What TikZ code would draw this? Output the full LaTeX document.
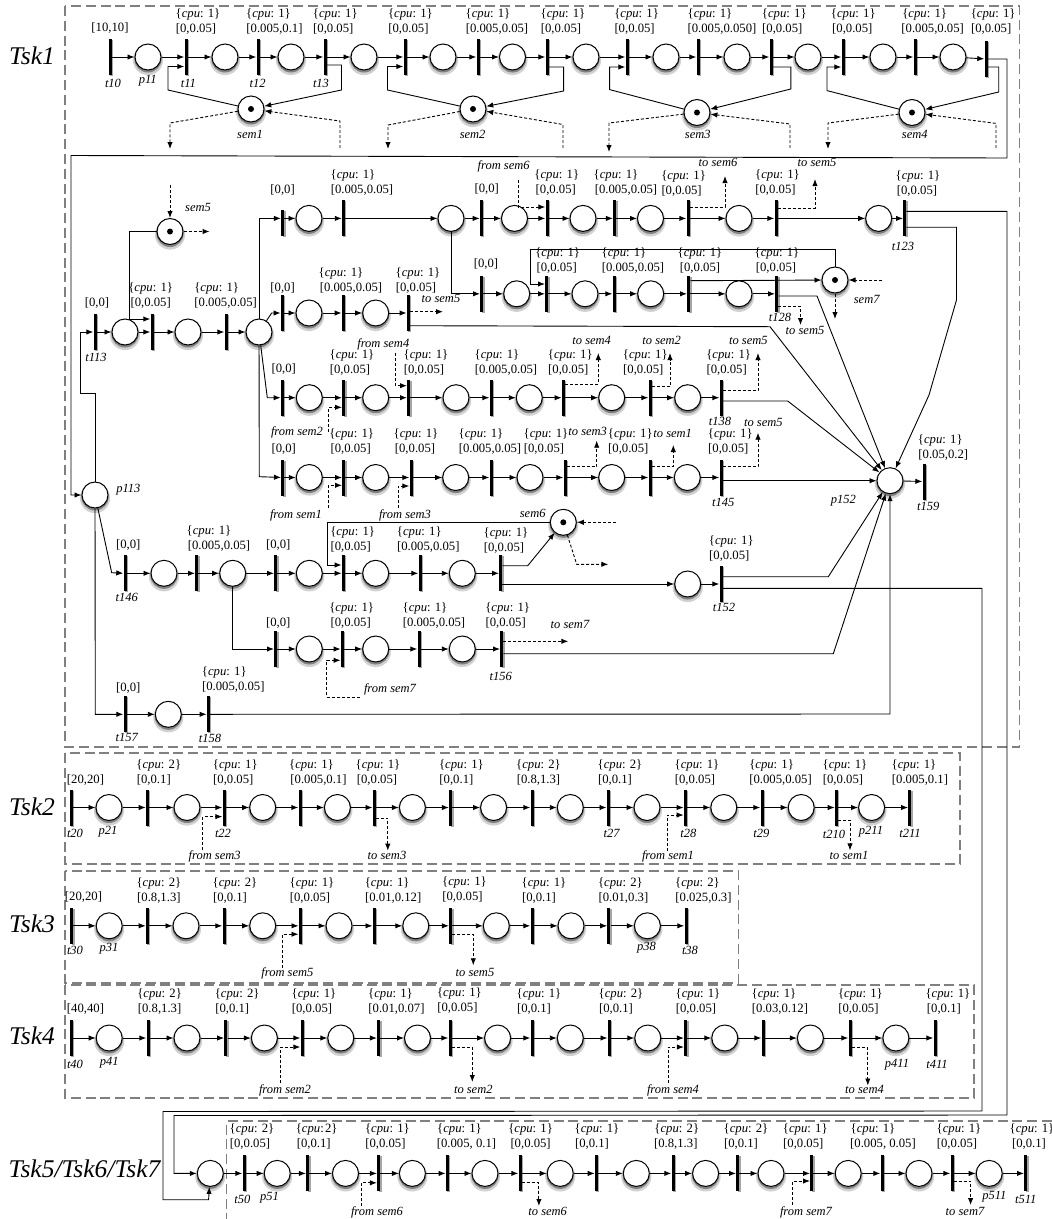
\documentclass[tikz,border=0pt]{standalone}
\usepackage{fontspec}
\setmainfont{Liberation Serif}
\usetikzlibrary{arrows.meta,shadows}
\newcounter{labc}
\tikzset{
  plc/.style={circle,draw=black,line width=1pt,fill=white,minimum size=26pt,inner sep=0pt,
    general shadow={fill=black,opacity=.18,shadow yshift=-2.6pt,shadow scale=1.16},
    general shadow={fill=black,opacity=.38,shadow yshift=-1.8pt,shadow scale=1.05}},
  trn/.style={rectangle,fill=black,minimum width=3pt,minimum height=36pt,inner sep=0pt,
    general shadow={fill=black,opacity=.35,shadow xshift=1.4pt,shadow yshift=-1pt}},
  arcl/.style={line width=.9pt,-{Latex[length=7pt,width=5.4pt]}},
  dsh/.style={arcl,dash pattern=on 3pt off 2pt},
  txt/.style={font=\fontsize{12.7}{15}\selectfont,inner sep=0pt,text height=8.5pt,text depth=2.7pt},
  itx/.style={font=\fontsize{12.5}{15}\selectfont\itshape,inner sep=0pt,text height=8.3pt,text depth=2.6pt},
  bigx/.style={font=\fontsize{25.5}{28}\selectfont\itshape,inner sep=0pt},
  boxd/.style={draw=black!50,line width=1.8pt,dash pattern=on 10pt off 4.8pt}
}
% a row of alternating transitions (odd) and places (even), chained by arcs
\newcommand\Row[3]{\foreach \xx [count=\ii] in {#3}{%
  \ifodd\ii \node[trn] (#1\ii) at (\xx,#2) {};\else \node[plc] (#1\ii) at (\xx,#2) {};\fi
  \ifnum\ii>1 \pgfmathtruncatemacro\pp{\ii-1}\draw[arcl] (#1\pp) -- (#1\ii);\fi}}
\newcommand\Sm[3]{\node[plc] (#1) at (#2,#3) {};\fill (#1.center) circle (3pt);}
\newcommand\Cpu[5][0]{\stepcounter{labc}%
  \node[txt] (c\arabic{labc}) at (#2+#1,#3-7.5) {\{\textit{cpu}: #4\}};
  \node[txt] (i\arabic{labc}) at (#2,#3+7.5) {[#5]};}
\newcommand\Ivl[3]{\stepcounter{labc}\node[txt] (v\arabic{labc}) at (#1,#2) {[#3]};}
\newcommand\Lab[3]{\stepcounter{labc}\node[itx] (l\arabic{labc}) at (#1,#2) {#3};}
\newcommand\Fe[3]{\coordinate (#1) at (#2,#3);}
\begin{document}
\begin{tikzpicture}[x=1pt,y=-1pt]
\useasboundingbox (0,0) rectangle (1052,1219);
\clip (0,0) rectangle (1052,1219);
% dashed task frames
\node[bigx] (tsk1) at (32,56) {Tsk1};
\node[bigx] (tsk2) at (32,807) {Tsk2};
\node[bigx] (tsk3) at (32,924) {Tsk3};
\node[bigx] (tsk4) at (32,1036) {Tsk4};
\node[bigx] (tsk5) at (84.5,1169) {Tsk5/Tsk6/Tsk7};
\draw[boxd] (65,6) rectangle (1019.5,746.7);
\draw[boxd] (65,752.7) rectangle (959.8,864.3);
\draw[boxd] (65,870.7) rectangle (738.4,982.6);
\draw[boxd] (65,985) rectangle (974.3,1097.6);
\draw[boxd] (1052,1121.3) -- (226.5,1121.3) -- (226.5,1219.5) -- (1052,1219.5);

% ---------- Tsk1, first row
\Row{a}{57}{110,148,186,225,258,291,325,364,405,443,478,512.5,547,586,627,666,698,737,771,808,843,883,915,953}
\node[trn] (a25) at (986,59) {};
\draw[arcl] (a24) -- (a25);
\Sm{sem1}{251}{109}\Sm{sem2}{473}{109}\Sm{sem3}{697}{112.5}\Sm{sem4}{912}{112.5}
\draw[arcl] (sem1) -- (168,90) -- (168,66.5) -- (a3.west |- 0,66.5);
\draw[arcl] (a7.east |- 0,65) -- (341.5,65) -- (341.5,90) -- (sem1);
\Fe{u1}{170}{149}\Fe{u2}{340}{148}
\draw[dsh] (sem1) -- (170,123) -- (u1);
\draw[dsh] (u2) -- (340,121) -- (sem1);
\draw[arcl] (sem2) -- (387.5,90) -- (387.5,66.5) -- (a9.west |- 0,66.5);
\draw[arcl] (a13.east |- 0,67) -- (563.6,67) -- (563.6,91) -- (sem2);
\Fe{u3}{388}{149}\Fe{u4}{563}{148}
\draw[dsh] (sem2) -- (388,125) -- (u3);
\draw[dsh] (u4) -- (563,124.5) -- (sem2);
\draw[arcl] (sem3) -- (609.6,89.6) -- (609.6,67) -- (a15.west |- 0,67);
\draw[arcl] (a19.east |- 0,67) -- (790.8,67) -- (790.8,89) -- (sem3);
\Fe{u5}{609}{152}\Fe{u6}{790}{148}
\draw[dsh] (sem3) -- (609,123) -- (u5);
\draw[dsh] (u6) -- (790,124) -- (sem3);
\draw[arcl] (sem4) -- (827,90.6) -- (827,67) -- (a21.west |- 0,67);
\draw[arcl] (a25.east |- 0,67) -- (998.7,67) -- (998.7,92) -- (sem4);
\Fe{u7}{828}{149}\Fe{u8}{996}{148}
\draw[dsh] (sem4) -- (828,123) -- (u7);
\draw[dsh] (u8) -- (996,123.4) -- (sem4);
\Ivl{110}{28.4}{10,10}
\Cpu[2]{196}{22}{1}{0,0.05}
\Cpu[-6]{274.5}{22}{1}{0.005,0.1}
\Cpu[2]{333.3}{22}{1}{0,0.05}
\Cpu[2]{408.4}{22}{1}{0,0.05}
\Cpu[-9]{497}{22}{1}{0.005,0.05}
\Cpu[2]{561}{22}{1}{0,0.05}
\Cpu[2]{634.6}{22}{1}{0,0.05}
\Cpu[-12]{722}{22}{1}{0.005,0.050}
\Cpu[2]{782.3}{22}{1}{0,0.05}
\Cpu[1]{852.3}{22}{1}{0,0.05}
\Cpu[-8]{932.7}{22}{1}{0.005,0.05}
\Cpu[2]{991.2}{22}{1}{0,0.05}
\Lab{113}{84.5}{t10}\Lab{147.7}{80.5}{p11}\Lab{188.3}{84.5}{t11}\Lab{257.6}{84.5}{t12}\Lab{321}{84.5}{t13}
\Lab{250}{136}{sem1}\Lab{472.6}{136}{sem2}\Lab{697.8}{136}{sem3}\Lab{914.8}{136}{sem4}

% ---------- Tsk1, branching part
\node[plc] (p113) at (95,495) {};
\Row{m}{332}{95,125,152,188,226,259}
\Sm{sem5}{170}{231.5}
\Row{b}{218.4}{343.5,451,481.4,514.5,547,583,614.6,650.5,688,739,776,878.7,904.7}
\node[trn,minimum height=26pt] (b0) at (282.6,223) {};
\node[plc] (bp) at (309,218.4) {};
\draw[arcl] (b0.east |- bp) -- (bp);
\draw[arcl] (bp) -- (b1);
\Row{c}{293.8}{481.7,516.7,546.7,585,614,650.7,688.7,739,776.7}
\Sm{sem7}{835}{280}
\Row{d}{313}{282.3,309,343.3,375.7,408.3}
\Row{e}{397.7}{282.3,309.3,343.7,375.7,408.7,456,491,529.3,563.3,611.7,650,687.7,721}
\Row{f}{477.5}{282.7,309.3,343.7,375.7,411,455.7,491,530,565,611.7,650,687.3,721}
\Row{g}{573.3}{125,164,196.7,232.7,275.7,309.3,343.3,375.7,420,462.3,500.7}
\Sm{sem6}{563.3}{522.3}
\node[plc] (j1) at (687.7,584) {};
\node[trn] (j2) at (721,584) {};
\draw[arcl] (j1) -- (j2);
\Row{h}{649}{275.7,309.3,342.3,375.7,419,462.3,501.7}
\Row{k}{714.3}{125,168.3,208.3}
\node[plc] (pf) at (890,480.7) {};
\node[trn] (tf) at (924,481.5) {};
\draw[arcl] (pf) -- (tf);
\node[plc] (s0) at (210.3,1173.4) {};

% return line into p113 and its branches
\draw[arcl] (a25.east |- 0,59) -- (1007,59) -- (1007,158) -- (71,155.5) -- (71,495) -- (p113);
\draw[arcl] (p113) -- (95,393) -- (80,393) -- (80,332) -- (m1);
\draw[arcl] (p113) -- (111.7,572.7) -- (g1);
\draw[arcl] (p113) -- (95.3,714.3) -- (k1);
\draw[arcl] (sem5) -- (129.5,231.5) -- (129.5,319) -- (m3.west |- 0,319);
\Fe{v1}{170}{185}\Fe{v2}{209.6}{231.5}
\draw[dsh] (v1) -- (sem5);
\draw[dsh] (sem5) -- (v2);
\draw[arcl] (m6) -- (259,218.4) -- (b0.west |- 0,218.4);
\draw[arcl] (m6) -- (271.7,313) -- (d1);
\draw[arcl] (m6) -- (267.3,397.7) -- (e1);
\draw[arcl] (m6) -- (259.3,476.7) -- (f1);
\draw[arcl] (b2) -- (451,293.8) -- (c1);
\draw[arcl] (sem7) -- (835,249) -- (530,249) -- (530,284) -- (c3.west |- 0,284);
\draw[arcl] (c7.east |- 0,280.7) -- (sem7);
\draw[arcl] (c9.east |- 0,296) -- (817,296) -- (pf);
\Fe{v3}{800.5}{325}\Fe{v4}{881.7}{280}\Fe{v5}{835}{319}
\draw[dsh] (c9.east |- 0,306) -- (800.5,306) -- (v3);
\draw[dsh] (v4) -- (sem7);
\draw[dsh] (sem7) -- (v5);
% row b: dashed and outgoing
\Fe{v6}{518}{180}\Fe{v7}{725}{176}\Fe{v8}{815}{179}
\draw[dsh] (v6) -- (518,207) -- (b5.west |- 0,207);
\draw[dsh] (b9.east |- 0,207) -- (725,207) -- (v7);
\draw[dsh] (b11.east |- 0,208) -- (815,208) -- (v8);
\draw[arcl] (b13.east |- 0,211.3) -- (1007,211.3) -- (1007,1115) -- (174,1115.5) -- (174,1173.4) -- (s0);
\draw[arcl] (b13.east |- 0,227.2) -- (956.5,227.2) -- (956.5,300) -- (929,395) -- (pf);
% row d
\Fe{v9}{443}{311.7}
\draw[dsh] (d5.east |- 0,311.7) -- (v9);
\draw[arcl] (d5.east |- 0,325.7) -- (770,326.7) -- (pf);
% row e
\Fe{w1}{328.3}{431.7}\Fe{w2}{395}{353.3}\Fe{w3}{598.3}{353}\Fe{w4}{670}{353}\Fe{w5}{758}{353}
\draw[dsh] (w1) -- (328.3,407.3) -- (e3.west |- 0,407.3);
\draw[dsh] (w2) -- (395,385.7) -- (e5.west |- 0,385.7);
\draw[dsh] (e9.east |- 0,384) -- (598.3,384) -- (w3);
\draw[dsh] (e11.east |- 0,386.7) -- (670,386.7) -- (w4);
\draw[dsh] (e13.east |- 0,390.7) -- (758,390.7) -- (w5);
\draw[arcl] (e13.east |- 0,401) -- (787.7,401) -- (pf);
% row f
\Fe{w6}{328.7}{508.3}\Fe{w7}{398.3}{508}\Fe{w8}{596.7}{440.7}\Fe{w9}{673.3}{445}\Fe{x1}{758}{432.7}
\draw[dsh] (w6) -- (328.7,485.3) -- (f3.west |- 0,485.3);
\draw[dsh] (w7) -- (398.3,486) -- (f5.west |- 0,486);
\draw[dsh] (f9.east |- 0,466.7) -- (596.7,466.7) -- (w8);
\draw[dsh] (f11.east |- 0,466.7) -- (673.3,466.7) -- (w9);
\draw[dsh] (f13.east |- 0,466.7) -- (758,466.7) -- (x1);
\draw[arcl] (f13.east |- 0,480.7) -- (pf);
% row g
\draw[arcl] (sem6) -- (327.3,522.3) -- (327.3,565) -- (g7.west |- 0,565);
\draw[arcl] (g11.east |- 0,565.7) -- (527.7,565.7) -- (sem6);
\draw[arcl] (g11.east |- 0,584) -- (j1);
\draw[arcl] (j2.east |- 0,576.7) -- (828.3,576.7) -- (pf);
\draw[arcl] (j2.east |- 0,588.3) -- (982,588.3) -- (982,1111) -- (163,1111.5) -- (163,1199.7) -- (208.6,1199.7) -- (s0);
\Fe{x2}{616}{522.3}\Fe{x3}{608.3}{564.3}
\draw[dsh] (x2) -- (sem6);
\draw[dsh] (sem6) -- (576.7,564.3) -- (x3);
% row h
\draw[arcl] (g4) -- (232.7,649) -- (h1);
\Fe{x4}{360}{697}\Fe{x5}{568.3}{641.3}
\draw[dsh] (x4) -- (326.7,697) -- (326.7,660.3) -- (h3.west |- 0,660.3);
\draw[dsh] (h7.east |- 0,641.3) -- (x5);
\draw[arcl] (h7.east |- 0,653.7) -- (833.3,653.7) -- (pf);
% row k
\draw[arcl] (k3) -- (890,714) -- (pf);

\Ivl{97}{304}{0,0}\Lab{96}{359}{t113}
\Cpu{150.7}{296}{1}{0,0.05}
\Cpu[-9]{225.7}{296}{1}{0.005,0.05}
\Lab{198}{208.6}{sem5}\Lab{128.3}{490}{p113}
\Ivl{282.6}{191}{0,0}
\Cpu[-9]{362}{183.5}{1}{0.005,0.05}
\Ivl{486.8}{190}{0,0}
\Cpu[1]{555.8}{183.5}{1}{0,0.05}
\Cpu[-10]{626}{183.5}{1}{0.005,0.05}
\Cpu[2]{681.6}{184}{1}{0,0.05}
\Cpu[2]{775.5}{183.5}{1}{0,0.05}
\Cpu[1]{917}{184.5}{1}{0,0.05}
\Lab{903}{248}{t123}\Lab{503.7}{166.7}{from sem6}\Lab{718}{164}{to sem6}\Lab{817}{164}{to sem5}
\Ivl{486}{265}{0,0}
\Cpu[1]{556.7}{261}{1}{0,0.05}
\Cpu[-9]{633}{261}{1}{0.005,0.05}
\Cpu{700}{261}{1}{0,0.05}
\Cpu[1]{776}{261}{1}{0,0.05}
\Lab{780}{318.7}{t128}\Lab{805}{332}{to sem5}\Lab{866.7}{301}{sem7}
\Ivl{282.6}{289}{0,0}
\Cpu[-10]{351}{281.5}{1}{0.005,0.05}
\Cpu[2]{416}{281.5}{1}{0,0.05}
\Lab{441}{300}{to sem5}
\Ivl{283.7}{370}{0,0}
\Cpu[2]{350}{363}{1}{0,0.05}
\Cpu[2]{424}{363}{1}{0,0.05}
\Cpu[-9]{506}{363}{1}{0.005,0.05}
\Cpu[2]{568.3}{363}{1}{0,0.05}
\Cpu[2]{643.3}{363}{1}{0,0.05}
\Cpu[2]{726.7}{363}{1}{0,0.05}
\Lab{383.3}{345}{from sem4}\Lab{297}{432.3}{from sem2}
\Lab{591.7}{341.7}{to sem4}\Lab{661.7}{341.7}{to sem2}\Lab{748.3}{342}{to sem5}\Lab{720}{422.7}{t138}
\Ivl{283.7}{449.3}{0,0}
\Cpu[1]{350.7}{441.7}{1}{0,0.05}
\Cpu[1]{415}{441.7}{1}{0,0.05}
\Cpu[-9]{490}{441.7}{1}{0.005,0.05}
\Cpu[2]{544}{441.7}{1}{0,0.05}
\Cpu[2]{628.3}{441.7}{1}{0,0.05}
\Cpu[2]{728.3}{441.7}{1}{0,0.05}
\Cpu[-3]{943.3}{448}{1}{0.05,0.2}
\Lab{296}{515.3}{from sem1}\Lab{405}{515.3}{from sem3}\Lab{587.7}{432.7}{to sem3}\Lab{672.7}{434.3}{to sem1}
\Lab{763.3}{423.3}{to sem5}\Lab{723.3}{503.3}{t145}\Lab{843.3}{501}{p152}\Lab{928.3}{507.3}{t159}
\Lab{532.7}{515}{sem6}
\Ivl{128.3}{545.7}{0,0}
\Cpu[-10]{219}{538.7}{1}{0.005,0.05}
\Ivl{278.3}{545.7}{0,0}
\Cpu[2]{350.7}{539.7}{1}{0,0.05}
\Cpu[-9]{428.3}{539.7}{1}{0.005,0.05}
\Cpu[2]{504}{541}{1}{0,0.05}
\Cpu[2]{729.3}{549}{1}{0,0.05}
\Lab{126.7}{599}{t146}\Lab{724}{608.3}{t152}
\Ivl{278.3}{623.3}{0,0}
\Cpu[1]{350.7}{616}{1}{0,0.05}
\Cpu[-9]{434}{616}{1}{0.005,0.05}
\Cpu[2]{505.7}{616}{1}{0,0.05}
\Lab{390}{690}{from sem7}\Lab{570}{626}{to sem7}\Lab{500.7}{677.7}{t156}
\Ivl{128.3}{689}{0,0}
\Cpu[-9]{233.3}{680.5}{1}{0.005,0.05}
\Lab{126.7}{738.3}{t157}\Lab{210}{740}{t158}

% ---------- Tsk2
\Row{n}{807.5}{71,109,147.4,187,224,262.7,300,337.4,374.2,412.4,450.6,493.6,532,570.3,608.2,647,685.3,723.8,762,801.2,836.4,871.6,909.8}
\Ivl{85.5}{780.4}{20,20}
\Cpu[5]{153.8}{773}{2}{0,0.1}
\Cpu[2]{233.3}{773}{1}{0,0.05}
\Cpu[-7]{318.5}{773}{1}{0.005,0.1}
\Cpu[1]{377}{773}{1}{0,0.05}
\Cpu[5]{456.4}{773}{1}{0,0.1}
\Cpu{538.5}{773}{2}{0.8,1.3}
\Cpu[5]{615}{773}{2}{0,0.1}
\Cpu[2]{695}{773}{1}{0,0.05}
\Cpu[-9]{780.6}{773}{1}{0.005,0.05}
\Cpu[2]{843}{773}{1}{0,0.05}
\Cpu[-6]{920}{773}{1}{0.005,0.1}
\Lab{75}{835}{t20}\Lab{108}{831.8}{p21}\Lab{223}{835}{t22}\Lab{611.6}{835}{t27}\Lab{688.3}{835}{t28}\Lab{761.3}{835}{t29}\Lab{834}{835.5}{t210}\Lab{871}{831.8}{p211}\Lab{910}{835}{t211}
\Fe{y1}{202.8}{849.7}\Fe{y2}{387.8}{850.7}\Fe{y3}{667.4}{851.4}\Fe{y4}{850}{850.4}
\draw[dsh] (y1) -- (202.8,816.6) -- (n5.west |- 0,816.6);
\draw[dsh] (n9.east |- 0,818) -- (387.8,818) -- (y2);
\draw[dsh] (y3) -- (667.4,815) -- (n17.west |- 0,815);
\draw[dsh] (n21.east |- 0,820.3) -- (850,820.3) -- (y4);
\Lab{214.7}{856.8}{from sem3}\Lab{387}{856.8}{to sem3}\Lab{668}{856.8}{from sem1}\Lab{849}{856.8}{to sem1}

% ---------- Tsk3
\Row{o}{925.8}{71.7,109.2,147.4,186,224,262.7,300.2,339,374.2,415.8,450.6,496.3,532,571,608.9,647.4,686}
\Ivl{83.5}{898}{20,20}
\Cpu{158.9}{891}{2}{0.8,1.3}
\Cpu[5]{230}{891}{2}{0,0.1}
\Cpu[2]{310}{891}{1}{0,0.05}
\Cpu[-6]{393.2}{891}{1}{0.01,0.12}
\Cpu[2]{462.5}{890}{1}{0,0.05}
\Cpu[5]{539}{891}{1}{0,0.1}
\Cpu[-3]{623.4}{891}{2}{0.01,0.3}
\Cpu[-6]{703.5}{891}{2}{0.025,0.3}
\Lab{75}{951.8}{t30}\Lab{108.9}{948.8}{p31}\Lab{646.4}{948}{p38}\Lab{690}{951.8}{t38}
\Fe{y5}{282.3}{968}\Fe{y6}{473.3}{965.3}
\draw[dsh] (y5) -- (282.3,934.2) -- (o7.west |- 0,934.2);
\draw[dsh] (o11.east |- 0,934.2) -- (473.3,934.2) -- (y6);
\Lab{287.4}{973.8}{from sem5}\Lab{475}{973.8}{to sem5}

% ---------- Tsk4
\Row{q}{1038}{71,109.2,148,187,225.8,264.4,302,340.8,378.6,417.5,450,497.6,532,570.3,609.2,647.8,685.6,724.8,763,810.4,850,895.9,935}
\Ivl{85.5}{1009.7}{40,40}
\Cpu{159.6}{1002}{2}{0.8,1.3}
\Cpu[5]{232.2}{1002}{2}{0,0.1}
\Cpu[2]{312}{1002}{1}{0,0.05}
\Cpu[-6]{396.5}{1002}{1}{0.01,0.07}
\Cpu[2]{457.4}{1001.5}{1}{0,0.05}
\Cpu[5]{534}{1002}{1}{0,0.1}
\Cpu[5]{616}{1002}{2}{0,0.1}
\Cpu[2]{696}{1002}{1}{0,0.05}
\Cpu[-6]{780}{1002}{1}{0.03,0.12}
\Cpu[2]{858.4}{1002}{1}{0,0.05}
\Cpu[4]{943.9}{1002}{1}{0,0.1}
\Lab{75}{1065.5}{t40}\Lab{109.2}{1062.8}{p41}\Lab{897}{1065}{p411}\Lab{937}{1065.5}{t411}
\Fe{y7}{280.6}{1083}\Fe{y8}{472.3}{1082}\Fe{y9}{668.4}{1083}\Fe{z1}{867.8}{1085.5}
\draw[dsh] (y7) -- (280.6,1047) -- (q7.west |- 0,1047);
\draw[dsh] (q11.east |- 0,1047.6) -- (472.3,1047.6) -- (y8);
\draw[dsh] (y9) -- (668.4,1047) -- (q17.west |- 0,1047);
\draw[dsh] (q21.east |- 0,1047.6) -- (867.8,1047.6) -- (z1);
\Lab{285}{1090.2}{from sem2}\Lab{473.3}{1090.2}{to sem2}\Lab{673}{1090.2}{from sem4}\Lab{864.5}{1090.2}{to sem4}

% ---------- Tsk5/Tsk6/Tsk7
\Row{s}{1173.4}{244,277.2,307.6,345.5,378.6,412.4,447.3,485,520,560.2,596.4,636.3,673,705.6,737.7,771,811.7,848.2,882,919,952,989.2,1025.7}
\draw[arcl] (s0) -- (s1);
\Cpu[2]{250}{1137}{2}{0,0.05}
\Cpu[3]{313.7}{1137}{\kern-3pt 2}{0,0.1}
\Cpu[2]{385.4}{1137}{1}{0,0.05}
\Cpu[-7]{466.5}{1137}{1}{0.005, 0.1}
\Cpu{530.6}{1137}{1}{0,0.05}
\Cpu[5]{592}{1137}{1}{0,0.1}
\Cpu[1]{675.8}{1137}{2}{0.8,1.3}
\Cpu[5]{741}{1137}{2}{0,0.1}
\Cpu[2]{803.3}{1137}{1}{0,0.05}
\Cpu[-10]{883}{1137}{1}{0.005, 0.05}
\Cpu[2]{957}{1137}{1}{0,0.05}
\Cpu[3]{1029}{1137}{1}{0,0.1}
\Lab{242.4}{1200.4}{t50}\Lab{269.4}{1197.4}{p51}\Lab{994.3}{1196.4}{p511}\Lab{1025.7}{1200.4}{t511}
\Fe{z2}{361}{1206}\Fe{z3}{538.9}{1206}\Fe{z4}{792.5}{1205}\Fe{z5}{970.6}{1205}
\draw[dsh] (z2) -- (361,1182.8) -- (s5.west |- 0,1182.8);
\draw[dsh] (s9.east |- 0,1182.8) -- (538.9,1182.8) -- (z3);
\draw[dsh] (z4) -- (792.5,1181) -- (s17.west |- 0,1181);
\draw[dsh] (s21.east |- 0,1181) -- (970.6,1181) -- (z5);
\Lab{377}{1212.5}{from sem6}\Lab{547.7}{1212.5}{to sem6}\Lab{806}{1212.5}{from sem7}\Lab{965}{1212.5}{to sem7}
\end{tikzpicture}
\end{document}
